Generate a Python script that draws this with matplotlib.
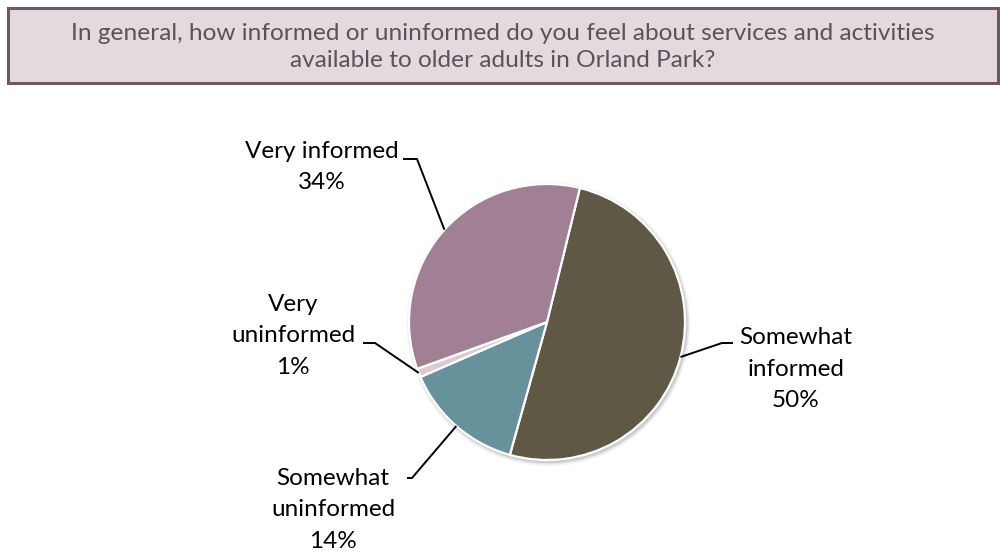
import matplotlib.pyplot as plt
import matplotlib.patches as mpatches
import numpy as np

title = ("In general, how informed or uninformed do you feel about services and activities\n"
         "available to older adults in Orland Park?")
categories = ["Somewhat\ninformed", "Somewhat\nuninformed", "Very\nuninformed", "Very informed"]
values = [50, 14, 1, 34]
colors = ["#5E5845", "#67929B", "#DCC9D3", "#A08092"]

# label text centre and elbow of the leader line (pixel coords, y down)
label_pos = [(796, 369), (333, 510), (293, 336), (322, 167)]
elbow = [((733, 343), (722, 343)), ((407, 478), (412, 478)),
         ((363, 343), (375, 343)), ((403, 159), (417, 159))]

W, H = 1000, 555
fig = plt.figure(figsize=(10, 5.55), dpi=100)
ax = fig.add_axes([0, 0, 1, 1])


def py(y):
    return H - y


# title box
ax.add_patch(mpatches.Rectangle((8, py(83)), 990, 75, facecolor="#E3D9DF",
                                edgecolor="#6D5866", linewidth=2.2, zorder=1))
ax.text(503, py(47), title, ha="center", va="center", fontsize=17.6,
        family="Lato", color="#5F5059", linespacing=1.36, zorder=2)

# pie with a soft shadow
cx, cy, r = 547, py(322), 138
for k, a in enumerate([0.10, 0.07, 0.04]):
    ax.add_patch(mpatches.Circle((cx + 1.5, cy - 2), r + 1 + k * 1.5,
                                 facecolor="#000000", alpha=a, linewidth=0, zorder=2))
wedges, _ = ax.pie(values, colors=colors, startangle=76.2, counterclock=False,
                   center=(cx, cy), radius=r, frame=True,
                   wedgeprops=dict(edgecolor="white", linewidth=1.6))
for w in wedges:
    w.set_zorder(3)
ax.set_xlim(0, W)
ax.set_ylim(0, H)
ax.set_aspect("auto")
ax.axis("off")

for w, lab, v, (lx, ly), (e0, e1) in zip(wedges, categories, values, label_pos, elbow):
    mid = np.deg2rad((w.theta1 + w.theta2) / 2)
    ax_, ay_ = cx + r * np.cos(mid), cy + r * np.sin(mid)
    ax.plot([e0[0], e1[0], ax_], [py(e0[1]), py(e1[1]), ay_], color="black",
            linewidth=1.4, zorder=4, solid_capstyle="butt")
    ax.text(lx, py(ly), f"{lab}\n{v}%", ha="center", va="center", fontsize=17.5,
            family="Lato", color="black", linespacing=1.6, zorder=5)

fig.savefig("out.png", dpi=100)
